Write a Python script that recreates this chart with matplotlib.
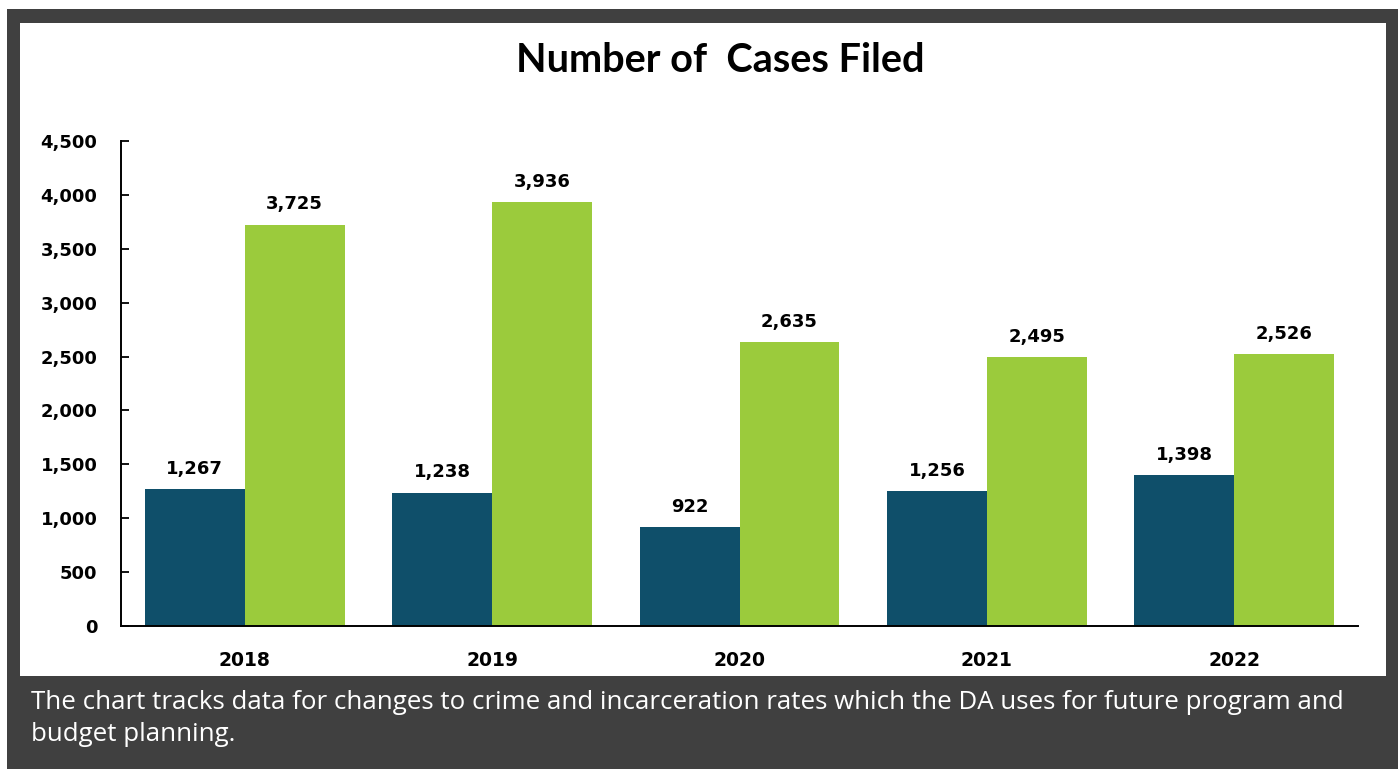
import matplotlib
matplotlib.use("Agg")
import matplotlib.pyplot as plt
from matplotlib.patches import Rectangle
import numpy as np

# data
years = ['2018', '2019', '2020', '2021', '2022']
series_a = [1267, 1238, 922, 1256, 1398]
series_b = [3725, 3936, 2635, 2495, 2526]
yticks = [0, 500, 1000, 1500, 2000, 2500, 3000, 3500, 4000, 4500]

title = 'Number of  Cases Filed'
caption = ('The chart tracks data for changes to crime and incarceration rates which the DA uses for future program and\n'
           'budget planning.')

blue = '#0f4f6a'
green = '#9bcb3c'
frame = '#404040'
lab_font = 'DejaVu Sans'

W, H = 1398, 769
fig = plt.figure(figsize=(W / 100, H / 100), dpi=100)
fig.patch.set_facecolor('white')

# dark frame and white panel, in pixel coordinates turned into figure fractions
fig.add_artist(Rectangle((7 / W, 0), 1 - 7 / W, 1 - 9 / H, transform=fig.transFigure,
                         facecolor=frame, edgecolor='none', zorder=0))
fig.add_artist(Rectangle((20 / W, 1 - 676 / H), (1386 - 20) / W, (676 - 23) / H,
                         transform=fig.transFigure, facecolor='white', edgecolor='none', zorder=0))

ax = fig.add_axes([121 / W, 1 - 626 / H, (1358 - 121) / W, (626 - 141) / H])
ax.set_facecolor('none')

x = np.arange(len(years))
w = 0.404
b1 = ax.bar(x - w / 2, series_a, w, color=blue, zorder=2)
b2 = ax.bar(x + w / 2, series_b, w, color=green, zorder=2)

fmt = lambda v: f'{v:,.0f}'
for bars in (b1, b2):
    ax.bar_label(bars, labels=[fmt(v) for v in bars.datavalues], padding=8,
                 fontsize=13, fontweight='bold', family=lab_font, color='black')

ax.set_xlim(-0.5, len(years) - 0.5)
ax.set_ylim(0, 4500)
ax.set_yticks(yticks)
ax.set_yticklabels([fmt(v) for v in yticks], fontsize=13, fontweight='bold', family=lab_font)
ax.set_xticks(x)
ax.set_xticklabels(years, fontsize=13.5, fontweight='bold', family=lab_font)
ax.tick_params(axis='y', direction='in', length=6, width=1.3, pad=17)
ax.tick_params(axis='x', length=0, pad=18)
for s in ('top', 'right'):
    ax.spines[s].set_visible(False)
for s in ('left', 'bottom'):
    ax.spines[s].set_linewidth(1.4)
    ax.spines[s].set_color('black')

fig.text(720 / W, 1 - 60 / H, title, ha='center', va='center', fontsize=28.5,
         fontweight='bold', family='Lato', color='black')
fig.text(31 / W, 1 - 690 / H, caption, ha='left', va='top', fontsize=18.6,
         family='Open Sans', color='white', linespacing=1.36)

fig.savefig('out.png', dpi=100, facecolor=fig.get_facecolor())
